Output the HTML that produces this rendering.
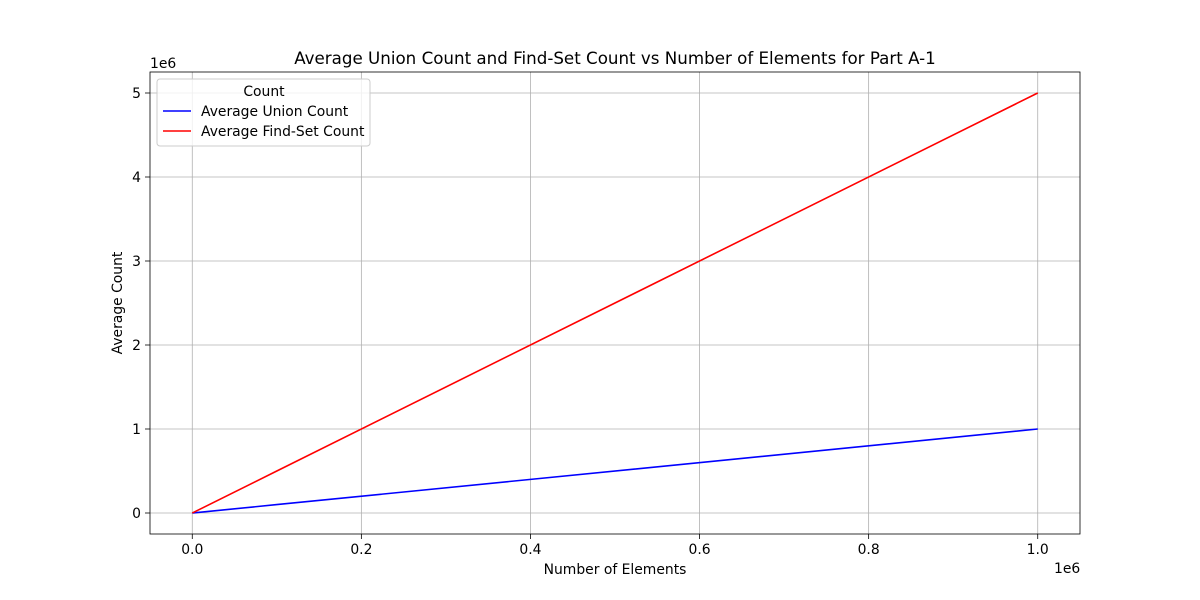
<!DOCTYPE html>
<html><head><meta charset="utf-8"><style>
body{margin:0;background:#fff;}
svg{display:block;font-family:"DejaVu Sans","Liberation Sans",sans-serif;}
</style></head><body>
<svg id="chart" width="1200" height="600" viewBox="0 0 1200 600"></svg>
<script>
const elements = [10, 100, 1000, 10000, 100000, 1000000];
const unionCounts = [9, 99, 999, 9999, 99999, 999999];
const findSetCounts = [50, 500, 5000, 50000, 500000, 5000000];
const xTickValues = [0, 200000, 400000, 600000, 800000, 1000000];
const xTickLabels = ["0.0", "0.2", "0.4", "0.6", "0.8", "1.0"];
const yTickValues = [0, 1000000, 2000000, 3000000, 4000000, 5000000];
const yTickLabels = ["0", "1", "2", "3", "4", "5"];

const L=150,R=1080,T=72,B=534;
const xmin=-50000,xmax=1050000,ymin=-250000,ymax=5250000;
const sx=v=>L+(v-xmin)/(xmax-xmin)*(R-L);
const sy=v=>B-(v-ymin)/(ymax-ymin)*(B-T);
const svg=document.getElementById('chart');
const NS='http://www.w3.org/2000/svg';
function mk(tag,attrs,parent){const e=document.createElementNS(NS,tag);for(const k in attrs)e.setAttribute(k,attrs[k]);(parent||svg).appendChild(e);return e;}
function txt(s,attrs){const e=mk('text',attrs);e.textContent=s;return e;}

xTickValues.forEach((v,i)=>{
  const g=mk('line',{x1:sx(v),x2:sx(v),y1:T,y2:B,stroke:'#b0b0b0','stroke-width':0.8});
  
  
  mk('line',{x1:sx(v),x2:sx(v),y1:B,y2:B+5,stroke:'#000','stroke-width':0.8});
  const t=txt(xTickLabels[i],{x:sx(v),y:B+20,'font-size':13.9,'text-anchor':'middle'});
  
  
});
yTickValues.forEach((v,i)=>{
  const g=mk('line',{x1:L,x2:R,y1:sy(v),y2:sy(v),stroke:'#b0b0b0','stroke-width':0.8});
  
  
  mk('line',{x1:L-5,x2:L,y1:sy(v),y2:sy(v),stroke:'#000','stroke-width':0.8});
  const t=txt(yTickLabels[i],{x:L-9,y:sy(v)+5,'font-size':13.9,'text-anchor':'end'});
  
  
});

function series(vals,color,name){
  const p=mk('polyline',{points:elements.map((x,i)=>sx(x)+','+sy(vals[i])).join(' '),fill:'none',stroke:color,'stroke-width':1.6});
  
  
}
series(unionCounts,'#0000ff','union-count-line');
series(findSetCounts,'#ff0000','find-set-count-line');

const frame=mk('rect',{x:L,y:T,width:R-L,height:B-T,fill:'none',stroke:'#000','stroke-width':0.8});



let t;
t=txt('1e6',{x:150,y:68,'font-size':13.9});
t=txt('1e6',{x:1054,y:573,'font-size':13.9});
t=txt('Number of Elements',{x:615,y:574,'font-size':13.9,'text-anchor':'middle'});
t=txt('Average Count',{x:0,y:0,'font-size':13.9,'text-anchor':'middle',transform:'translate(122,303) rotate(-90)'});
t=txt('Average Union Count and Find-Set Count vs Number of Elements for Part A-1',{x:615,y:64,'font-size':16.7,'text-anchor':'middle'});

const lg=mk('rect',{x:157,y:79,width:213,height:67,rx:3,fill:'#fff','fill-opacity':0.8,stroke:'#ccc','stroke-width':1});


t=txt('Count',{x:264,y:96,'font-size':13.9,'text-anchor':'middle'});
mk('line',{x1:163,x2:191,y1:111,y2:111,stroke:'#0000ff','stroke-width':1.6});
t=txt('Average Union Count',{x:201,y:116,'font-size':13.9});
mk('line',{x1:163,x2:191,y1:131,y2:131,stroke:'#ff0000','stroke-width':1.6});
t=txt('Average Find-Set Count',{x:201,y:136,'font-size':13.9});
</script>
</body></html>
